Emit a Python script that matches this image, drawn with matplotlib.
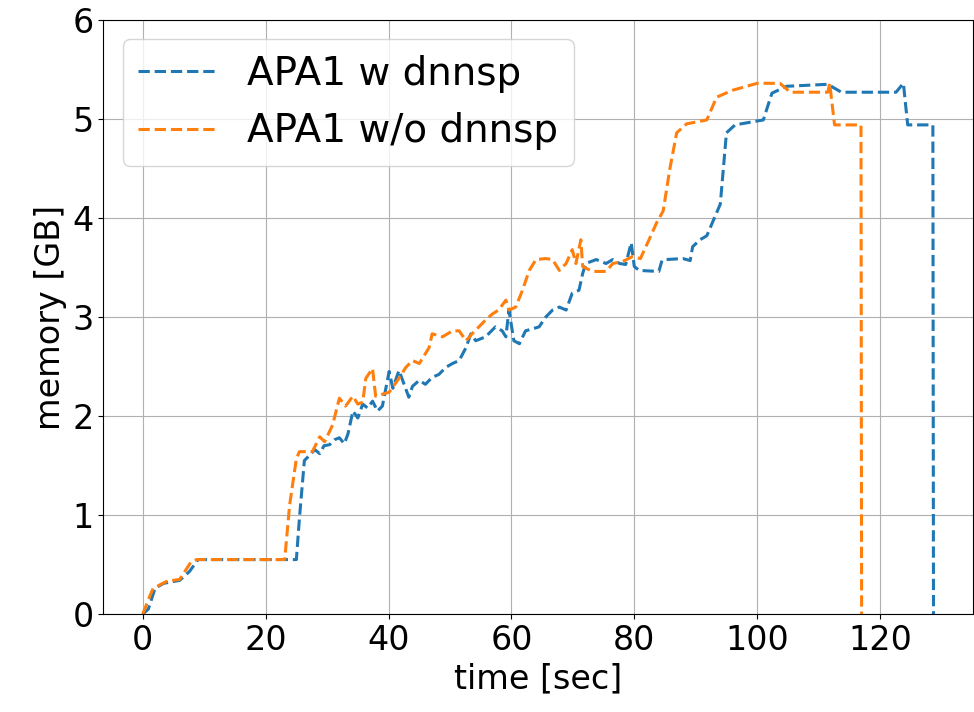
import numpy as np
import matplotlib
matplotlib.use('Agg')
import matplotlib.pyplot as plt

# memory trace, APA1 with dnnsp
t_w = [0, 0.9, 2, 3.4, 6, 7.6, 9, 25, 25.5, 26.3, 27.1, 28, 28.8, 29.5, 30.4, 31.2, 32, 32.8,
       33.4, 34.2, 35, 35.8, 36.6, 37.4, 38.2, 39, 40.1, 40.7, 41.7, 42.3, 43.3, 43.9, 45, 46,
       47.1, 48.2, 49.3, 50.4, 51.5, 52.6, 53.4, 54.2, 55.8, 57.4, 58.5, 59.1, 59.6, 60.4, 61.3,
       62.3, 63.4, 64.5, 65.6, 66.7, 67.8, 68.9, 69.9, 71, 71.6, 72.1, 73.8, 75.4, 76.5, 77.6,
       78.6, 79.5, 80, 80.8, 84, 84.5, 85.2, 87.9, 89.1, 89.5, 90.7, 91.8, 94, 95, 96.4, 101,
       102.4, 104.8, 111.5, 113.7, 122.6, 123.8, 124.5, 128.6, 128.7]
mem_w = [0, 0.05, 0.26, 0.31, 0.34, 0.43, 0.55, 0.55, 0.97, 1.55, 1.6, 1.66, 1.62, 1.7, 1.71,
         1.76, 1.78, 1.72, 1.82, 2.05, 1.98, 2.12, 2.08, 2.15, 2.05, 2.1, 2.45, 2.28, 2.46, 2.36,
         2.19, 2.3, 2.36, 2.32, 2.39, 2.42, 2.49, 2.53, 2.56, 2.69, 2.83, 2.76, 2.8, 2.9, 2.86,
         2.8, 3.07, 2.76, 2.73, 2.86, 2.88, 2.9, 3.0, 3.07, 3.1, 3.07, 3.24, 3.27, 3.44, 3.54,
         3.58, 3.54, 3.58, 3.54, 3.53, 3.75, 3.51, 3.47, 3.46, 3.57, 3.58, 3.59, 3.57, 3.71,
         3.78, 3.82, 4.14, 4.86, 4.94, 4.99, 5.26, 5.33, 5.35, 5.27, 5.27, 5.36, 4.94, 4.94, 0]

# memory trace, APA1 without dnnsp
t_wo = [0, 1.2, 1.7, 3.9, 6, 7.9, 8.8, 23.1, 23.9, 25, 25.5, 27.6, 28.8, 29.6, 30.9, 32, 33,
        34.2, 35, 35.8, 36.3, 37.4, 37.9, 39, 40.1, 41.7, 42.8, 43.9, 45, 46.6, 47.1, 48.8,
        50.4, 51.5, 52.6, 53.6, 54.7, 55.8, 56.9, 57.9, 59.1, 59.6, 60.7, 61.8, 62.9, 64, 65.6,
        66.7, 67.8, 68.9, 69.9, 70.5, 71.3, 71.6, 73.2, 75.4, 76.5, 78.1, 79.7, 81, 82.4, 83.7,
        84.7, 85.8, 86.9, 88.5, 91.8, 93.4, 96, 100, 103.7, 105.4, 111.5, 111.8, 112.6, 116.9, 117]
mem_wo = [0, 0.19, 0.26, 0.33, 0.35, 0.53, 0.55, 0.55, 1.1, 1.57, 1.64, 1.64, 1.79, 1.74, 1.91,
          2.18, 2.1, 2.2, 2.12, 2.14, 2.38, 2.48, 2.2, 2.22, 2.24, 2.38, 2.49, 2.56, 2.53, 2.69,
          2.83, 2.8, 2.86, 2.86, 2.76, 2.83, 2.9, 2.97, 3.03, 3.07, 3.17, 3.07, 3.1, 3.27, 3.47,
          3.58, 3.59, 3.58, 3.47, 3.54, 3.68, 3.54, 3.78, 3.51, 3.46, 3.46, 3.54, 3.56, 3.61,
          3.59, 3.78, 3.96, 4.07, 4.5, 4.86, 4.95, 4.99, 5.22, 5.29, 5.36, 5.36, 5.27, 5.27,
          5.36, 4.94, 4.94, 0]

fig = plt.figure(figsize=(9.74, 7.12), dpi=100)
ax = fig.add_axes([0.106, 0.1376, 0.893, 0.8344])

ax.plot(t_w, mem_w, '--', lw=2.2, label='APA1 w dnnsp')
ax.plot(t_wo, mem_wo, '--', lw=2.2, label='APA1 w/o dnnsp')

ax.set_ylim(0, 6)
ax.set_xlabel('time [sec]', fontsize=24)
ax.set_ylabel('memory [GB]', fontsize=24)
ax.tick_params(labelsize=24)
ax.grid(True)
ax.legend(loc='upper left', fontsize=28)

fig.savefig('out.png', dpi=100)
